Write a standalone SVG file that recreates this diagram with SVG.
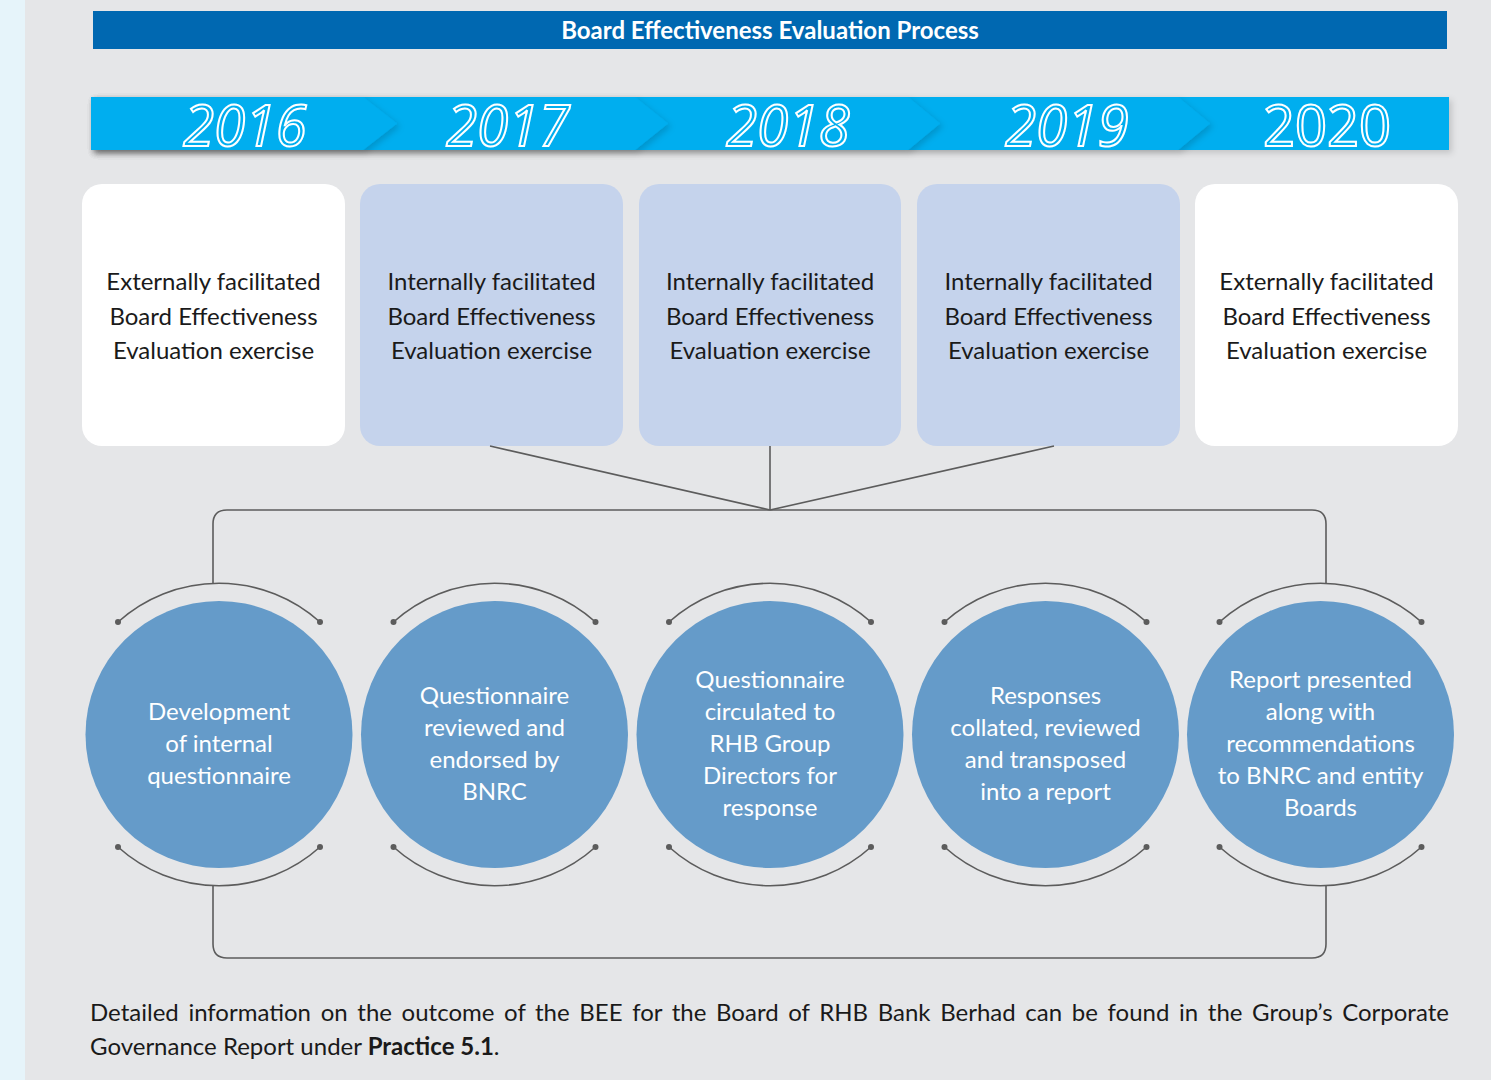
<svg xmlns="http://www.w3.org/2000/svg" width="1491" height="1080" viewBox="0 0 1491 1080">
<defs>
<filter id="sh" x="-10%" y="-30%" width="130%" height="160%">
<feDropShadow dx="3" dy="3" stdDeviation="3" flood-color="#000" flood-opacity="0.15"/>
</filter>
<style>
.title{font-family:Lato,"Liberation Sans",sans-serif;font-weight:bold;font-size:24px;fill:#fff;text-anchor:middle}
.year{font-family:"Open Sans",Lato,sans-serif;font-size:56px;fill:#00aeef;stroke:#fff;stroke-width:2;text-anchor:middle}
.it{font-style:italic}
.box{rx:20;ry:20}
.btxt{font-family:Lato,"Liberation Sans",sans-serif;font-size:24px;fill:#1a1a1a;text-anchor:middle}
.circ{fill:#659bc9}
.ctxt{font-family:Lato,"Liberation Sans",sans-serif;font-size:24px;fill:#fff;text-anchor:middle}
.ln{fill:none;stroke:#5c5c5c;stroke-width:1.6}
.dot{fill:#5c5c5c}
.foot{font-family:Lato,"Liberation Sans",sans-serif;font-size:24px;fill:#1a1a1a}
</style>
</defs>
<rect x="0" y="0" width="1491" height="1080" fill="#e5e6e8"/>
<rect x="0" y="0" width="25" height="1080" fill="#e6f4fa"/>
<g id="title">
<rect x="93" y="11" width="1354" height="38" fill="#0068b1"/>
<text class="title" x="770" y="39">Board Effectiveness Evaluation Process</text>
</g>
<g id="years">
<rect x="91" y="97" width="1358" height="53" fill="#00aeef" filter="url(#sh)"/>
<polygon points="91,97 1178,97 1210,123.5 1178,150 91,150" fill="#00aeef" filter="url(#sh)"/>
<polygon points="91,97 908,97 940,123.5 908,150 91,150" fill="#00aeef" filter="url(#sh)"/>
<polygon points="91,97 635,97 668,123.5 635,150 91,150" fill="#00aeef" filter="url(#sh)"/>
<polygon points="91,97 363,97 397,123.5 363,150 91,150" fill="#00aeef" filter="url(#sh)"/>
<text class="year it" x="245" y="146">2016</text>
<text class="year it" x="508" y="146">2017</text>
<text class="year it" x="788" y="146">2018</text>
<text class="year it" x="1067" y="146">2019</text>
<text class="year" x="1327" y="146">2020</text>
</g>
<g id="box2016">
<rect class="box" x="82" y="184" width="263" height="262" fill="#ffffff"/>
<text class="btxt" x="213.5" y="290">Externally facilitated</text>
<text class="btxt" x="213.5" y="325">Board Effectiveness</text>
<text class="btxt" x="213.5" y="359">Evaluation exercise</text>
</g>
<g id="box2017">
<rect class="box" x="360" y="184" width="263" height="262" fill="#c5d3ec"/>
<text class="btxt" x="491.5" y="290">Internally facilitated</text>
<text class="btxt" x="491.5" y="325">Board Effectiveness</text>
<text class="btxt" x="491.5" y="359">Evaluation exercise</text>
</g>
<g id="box2018">
<rect class="box" x="639" y="184" width="262" height="262" fill="#c5d3ec"/>
<text class="btxt" x="770" y="290">Internally facilitated</text>
<text class="btxt" x="770" y="325">Board Effectiveness</text>
<text class="btxt" x="770" y="359">Evaluation exercise</text>
</g>
<g id="box2019">
<rect class="box" x="917" y="184" width="263" height="262" fill="#c5d3ec"/>
<text class="btxt" x="1048.5" y="290">Internally facilitated</text>
<text class="btxt" x="1048.5" y="325">Board Effectiveness</text>
<text class="btxt" x="1048.5" y="359">Evaluation exercise</text>
</g>
<g id="box2020">
<rect class="box" x="1195" y="184" width="263" height="262" fill="#ffffff"/>
<text class="btxt" x="1326.5" y="290">Externally facilitated</text>
<text class="btxt" x="1326.5" y="325">Board Effectiveness</text>
<text class="btxt" x="1326.5" y="359">Evaluation exercise</text>
</g>
<g id="connectors">
<path class="ln" d="M490,446 L770,510 M770,446 L770,510 M1054,446 L770,510"/>
<path class="ln" d="M213,583 L213,524 Q213,510 227,510 L1312,510 Q1326,510 1326,524 L1326,583"/>
<path class="ln" d="M213,886 L213,944 Q213,958 227,958 L1312,958 Q1326,958 1326,944 L1326,886"/>
</g>
<g id="step1">
<circle class="circ" cx="219" cy="734.5" r="133.5"/>
<path class="ln" d="M118,622 A151,151 0 0 1 320,622 M118,847 A151,151 0 0 0 320,847"/>
<circle class="dot" cx="118" cy="622" r="3"/><circle class="dot" cx="320" cy="622" r="3"/>
<circle class="dot" cx="118" cy="847" r="3"/><circle class="dot" cx="320" cy="847" r="3"/>
<text class="ctxt" x="219" y="720">Development</text>
<text class="ctxt" x="219" y="752">of internal</text>
<text class="ctxt" x="219" y="784">questionnaire</text>
</g>
<g id="step2">
<circle class="circ" cx="494.5" cy="734.5" r="133.5"/>
<path class="ln" d="M393.5,622 A151,151 0 0 1 595.5,622 M393.5,847 A151,151 0 0 0 595.5,847"/>
<circle class="dot" cx="393.5" cy="622" r="3"/><circle class="dot" cx="595.5" cy="622" r="3"/>
<circle class="dot" cx="393.5" cy="847" r="3"/><circle class="dot" cx="595.5" cy="847" r="3"/>
<text class="ctxt" x="494.5" y="704">Questionnaire</text>
<text class="ctxt" x="494.5" y="736">reviewed and</text>
<text class="ctxt" x="494.5" y="768">endorsed by</text>
<text class="ctxt" x="494.5" y="800">BNRC</text>
</g>
<g id="step3">
<circle class="circ" cx="770" cy="734.5" r="133.5"/>
<path class="ln" d="M669,622 A151,151 0 0 1 871,622 M669,847 A151,151 0 0 0 871,847"/>
<circle class="dot" cx="669" cy="622" r="3"/><circle class="dot" cx="871" cy="622" r="3"/>
<circle class="dot" cx="669" cy="847" r="3"/><circle class="dot" cx="871" cy="847" r="3"/>
<text class="ctxt" x="770" y="688">Questionnaire</text>
<text class="ctxt" x="770" y="720">circulated to</text>
<text class="ctxt" x="770" y="752">RHB Group</text>
<text class="ctxt" x="770" y="784">Directors for</text>
<text class="ctxt" x="770" y="816">response</text>
</g>
<g id="step4">
<circle class="circ" cx="1045.5" cy="734.5" r="133.5"/>
<path class="ln" d="M944.5,622 A151,151 0 0 1 1146.5,622 M944.5,847 A151,151 0 0 0 1146.5,847"/>
<circle class="dot" cx="944.5" cy="622" r="3"/><circle class="dot" cx="1146.5" cy="622" r="3"/>
<circle class="dot" cx="944.5" cy="847" r="3"/><circle class="dot" cx="1146.5" cy="847" r="3"/>
<text class="ctxt" x="1045.5" y="704">Responses</text>
<text class="ctxt" x="1045.5" y="736">collated, reviewed</text>
<text class="ctxt" x="1045.5" y="768">and transposed</text>
<text class="ctxt" x="1045.5" y="800">into a report</text>
</g>
<g id="step5">
<circle class="circ" cx="1320.5" cy="734.5" r="133.5"/>
<path class="ln" d="M1219.5,622 A151,151 0 0 1 1421.5,622 M1219.5,847 A151,151 0 0 0 1421.5,847"/>
<circle class="dot" cx="1219.5" cy="622" r="3"/><circle class="dot" cx="1421.5" cy="622" r="3"/>
<circle class="dot" cx="1219.5" cy="847" r="3"/><circle class="dot" cx="1421.5" cy="847" r="3"/>
<text class="ctxt" x="1320.5" y="688">Report presented</text>
<text class="ctxt" x="1320.5" y="720">along with</text>
<text class="ctxt" x="1320.5" y="752">recommendations</text>
<text class="ctxt" x="1320.5" y="784">to BNRC and entity</text>
<text class="ctxt" x="1320.5" y="816">Boards</text>
</g>
<g id="footer">
<text class="foot" x="90" y="1021" word-spacing="3.5">Detailed information on the outcome of the BEE for the Board of RHB Bank Berhad can be found in the Group’s Corporate</text>
<text class="foot" x="90" y="1055">Governance Report under <tspan font-weight="bold">Practice 5.1</tspan>.</text>
</g>
</svg>
